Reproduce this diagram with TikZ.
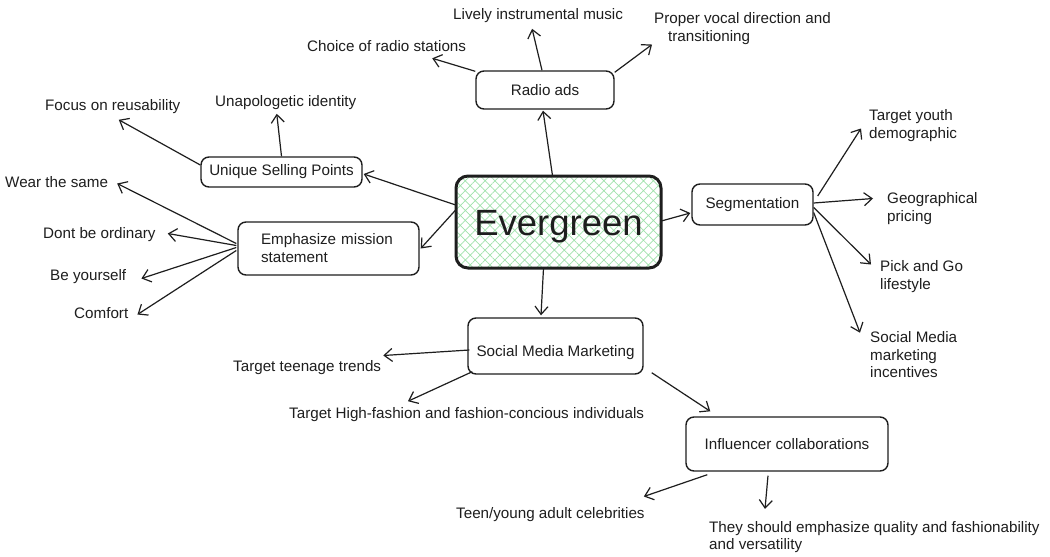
\documentclass[tikz,border=0pt]{standalone}
\usepackage{fontspec}
\setmainfont{Liberation Sans}
\usetikzlibrary{arrows.meta,patterns.meta}
\definecolor{ink}{RGB}{30,30,30}
\definecolor{hatch}{RGB}{160,226,172}
\begin{document}
\begin{tikzpicture}[x=1pt,y=-1pt,
 box/.style={draw=ink,line width=1.4pt,rounded corners=8pt,font=\fontsize{15.2}{18}\selectfont,text=ink},
 leaf/.style={inner sep=0pt,anchor=west,yshift=-1.5pt,font=\fontsize{15.2}{17.5}\selectfont,text=ink,align=left},
 arr/.style={draw=ink,line width=1.2pt,-{Straight Barb[length=8pt,width=13pt]}}]
\useasboundingbox[fill=white] (0,0) rectangle (1050,557);
% main boxes
\node[box, minimum width=205pt, minimum height=92pt, line width=3pt, rounded corners=12pt,
      pattern={Hatch[angle=45,distance=7pt,line width=0.7pt]}, pattern color=hatch,
      text height=34pt, text depth=7.7pt,
      font=\fontsize{36.5}{40}\selectfont] (ever) at (558.5,222) {Evergreen};
\node[box, minimum width=138pt, minimum height=38pt] (radio) at (545,90) {Radio ads};
\node[box, minimum width=121pt, minimum height=41pt] (seg) at (752.5,204.5) {Segmentation};
\node[box, minimum width=161pt, minimum height=30pt] (usp) at (281.5,172) {Unique Selling Points};
\node[box, minimum width=181pt, minimum height=53pt, text width=135pt, inner xsep=23pt, align=left] (emph) at (328.5,248.5) {Emphasize mission\\statement};
\node[box, minimum width=175pt, minimum height=56pt, text height=23pt, text depth=3pt] (smm) at (555.5,346) {Social Media Marketing};
\node[box, minimum width=202pt, minimum height=54pt] (inf) at (787,444) {Influencer collaborations};
% leaves
\node[leaf] (lively) at (453,14) {Lively instrumental music};
\node[leaf] (choice) at (307,45) {Choice of radio stations};
\node[leaf] (proper) at (654,27) {Proper vocal direction and\\\hspace*{14pt}transitioning};
\node[leaf] (focus) at (45,105) {Focus on reusability};
\node[leaf] (unap) at (215,101) {Unapologetic identity};
\node[leaf] (wear) at (5,181) {Wear the same};
\node[leaf] (dont) at (43,233) {Dont be ordinary};
\node[leaf] (beyou) at (50,275) {Be yourself};
\node[leaf] (comfort) at (74,312) {Comfort};
\node[leaf] (youth) at (869,124) {Target youth\\demographic};
\node[leaf] (geo) at (887,207) {Geographical\\pricing};
\node[leaf] (pick) at (880,275) {Pick and Go\\lifestyle};
\node[leaf] (smi) at (870,353.5) {Social Media\\marketing\\incentives};
\node[leaf] (teenage) at (233,366) {Target teenage trends};
\node[leaf] (high) at (289,413) {Target High-fashion and fashion-concious individuals};
\node[leaf] (teen) at (456,513) {Teen/young adult celebrities};
\node[leaf] (they) at (709,535.5) {They should emphasize quality and fashionability\\and versatility};
% connectors
\draw[arr] ([shift={(-6,0)}]ever.north) -- ([shift={(-2,1)}]radio.south);
\draw[arr] ([shift={(0,1)}]radio.north west) -- ([shift={(-34,6)}]choice.south east);
\draw[arr] ([shift={(-3,0)}]radio.north) -- ([shift={(-6,6)}]lively.south);
\draw[arr] ([shift={(0,2)}]radio.north east) -- ([shift={(-2,0)}]proper.south west);
\draw[arr] ([shift={(0,-17)}]ever.west) -- ([shift={(1,2)}]usp.east);
\draw[arr] ([shift={(0,-12)}]ever.west) -- ([shift={(1,0)}]emph.east);
\draw[arr] ([shift={(0,-7)}]usp.west) -- ([shift={(6,6)}]focus.south);
\draw[arr] (usp.north) -- ([shift={(-9,4)}]unap.south);
\draw[arr] ([shift={(-1,-5)}]emph.west) -- ([shift={(9,1)}]wear.east);
\draw[arr] ([shift={(-1,-3)}]emph.west) -- ([shift={(12,-1)}]dont.east);
\draw[arr] ([shift={(-1,-1)}]emph.west) -- ([shift={(15,2)}]beyou.east);
\draw[arr] ([shift={(-1,2)}]emph.west) -- ([shift={(9,1)}]comfort.east);
\draw[arr] ([shift={(0,-1)}]ever.east) -- ([shift={(-1,8.5)}]seg.west);
\draw[arr] ([shift={(4,-8.5)}]seg.east) -- ([shift={(-8,3)}]youth.west);
\draw[arr] ([shift={(0,-1.5)}]seg.east) -- ([shift={(-14,-10)}]geo.west);
\draw[arr] ([shift={(0,3)}]seg.east) -- ([shift={(-9,-12)}]pick.west);
\draw[arr] ([shift={(0,8)}]seg.east) -- ([shift={(-10,1)}]smi.north west);
\draw[arr] ([shift={(-15,0)}]ever.south) -- ([shift={(-14.5,-2)}]smm.north);
\draw[arr] ([shift={(2,4)}]smm.west) -- ([shift={(2,-12)}]teenage.east);
\draw[arr] ([shift={(5,-3)}]smm.south west) -- ([shift={(119,-6)}]high.north west);
\draw[arr] ([shift={(8,-2)}]smm.south east) -- ([shift={(25,-5)}]inf.north west);
\draw[arr] ([shift={(22,3)}]inf.south west) -- ([shift={(-1,-18)}]teen.east);
\draw[arr] ([shift={(-19,4)}]inf.south) -- ([shift={(56,-12)}]they.north west);
\end{tikzpicture}
\end{document}
